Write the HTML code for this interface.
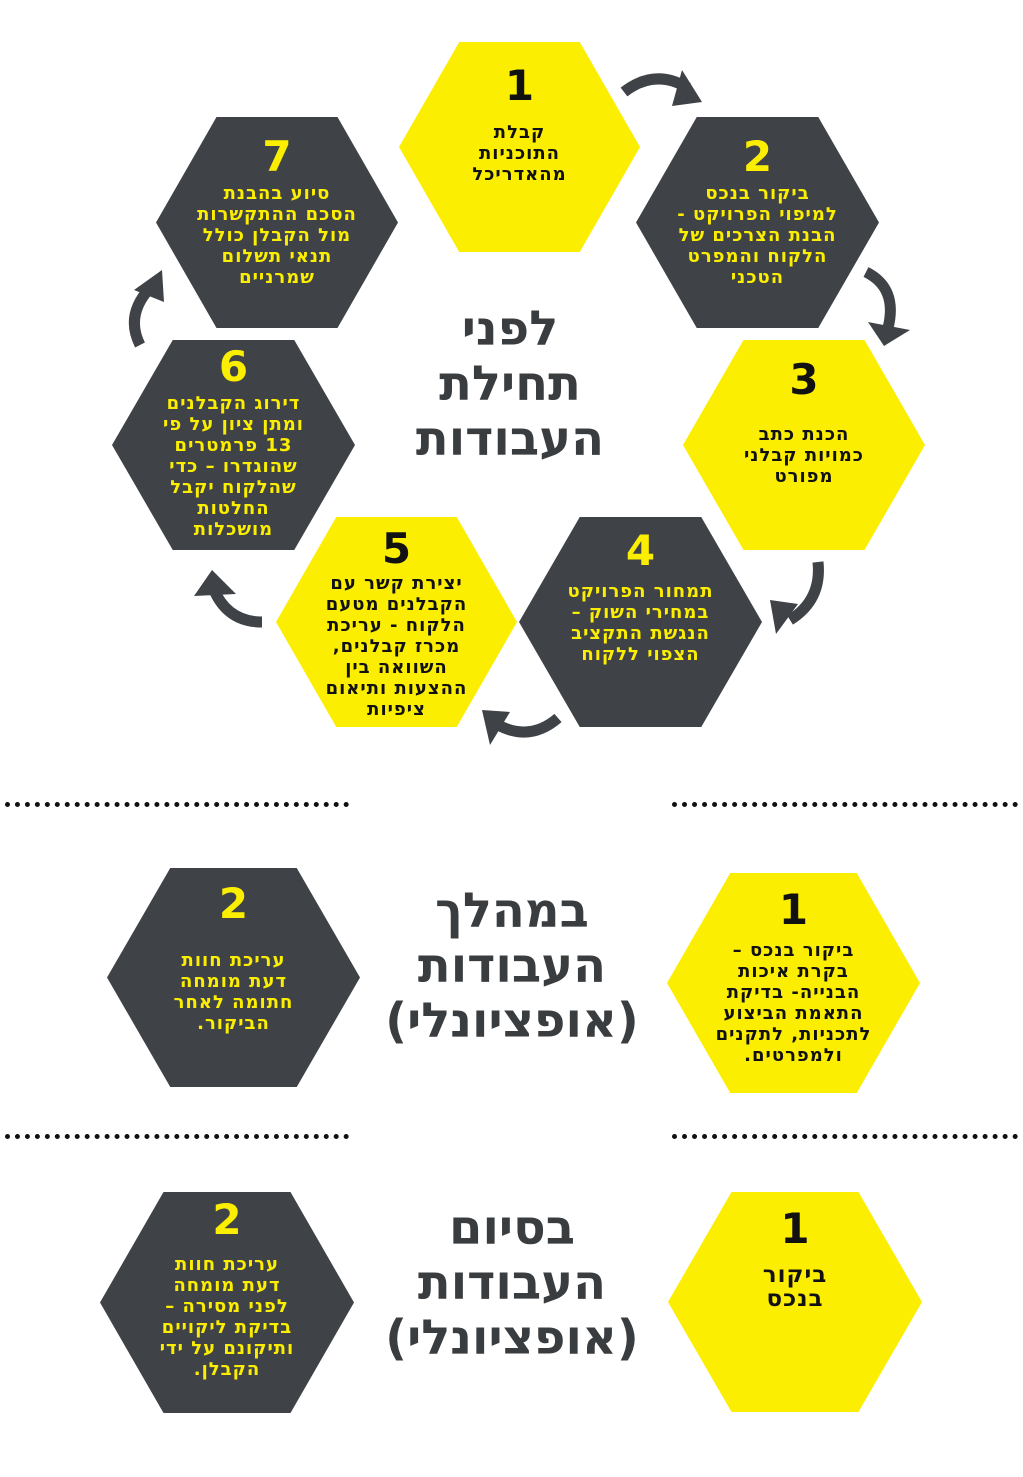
<!DOCTYPE html>
<html><head><meta charset="utf-8"><style>
body{margin:0;width:1023px;height:1477px;background:#fff;position:relative;overflow:hidden;font-family:"Liberation Sans","Noto Sans CJK SC",sans-serif;}
.hex{position:absolute;clip-path:polygon(0 50%,25% 0,75% 0,100% 50%,75% 100%,25% 100%);display:flex;flex-direction:column;align-items:center;justify-content:flex-start;text-align:center;direction:rtl;box-sizing:border-box;}
.y{background:#fcee00;color:#111;}
.d{background:#3f4347;color:#fcee00;}
.n{font-size:42px;font-weight:900;line-height:44px;font-family:"DejaVu Sans","Liberation Sans",sans-serif;}
.t{font-size:18px;font-weight:bold;line-height:21px;letter-spacing:1px;font-family:"DejaVu Sans","Liberation Sans",sans-serif;}
.title{position:absolute;text-align:center;direction:rtl;color:#3a3d40;font-weight:bold;font-size:48px;line-height:55px;font-family:"DejaVu Sans","Liberation Sans",sans-serif;}
.dot{position:absolute;height:0;border-top:5px dotted #111;}
</style></head><body>

<div class="hex y" style="left:399px;top:42px;width:241px;height:210px;padding-top:22px"><div class="n">1</div><div class="t" style="margin-top:14px">קבלת<br>התוכניות<br>מהאדריכל</div></div>
<div class="hex d" style="left:636px;top:117px;width:243px;height:211px;padding-top:18px"><div class="n">2</div><div class="t" style="margin-top:4px">ביקור בנכס<br>למיפוי הפרויקט -<br>הבנת הצרכים של<br>הלקוח והמפרט<br>הטכני</div></div>
<div class="hex y" style="left:683px;top:340px;width:242px;height:210px;padding-top:18px"><div class="n">3</div><div class="t" style="margin-top:22px">הכנת כתב<br>כמויות קבלני<br>מפורט</div></div>
<div class="hex d" style="left:519px;top:517px;width:243px;height:210px;padding-top:12px"><div class="n">4</div><div class="t" style="margin-top:8px">תמחור הפרויקט<br>במחירי השוק –<br>הנגשת התקציב<br>הצפוי ללקוח</div></div>
<div class="hex y" style="left:276px;top:517px;width:241px;height:210px;padding-top:10px"><div class="n">5</div><div class="t" style="margin-top:2px">יצירת קשר עם<br>הקבלנים מטעם<br>הלקוח - עריכת<br>מכרז קבלנים,<br>השוואה בין<br>ההצעות ותיאום<br>ציפיות</div></div>
<div class="hex d" style="left:112px;top:340px;width:243px;height:210px;padding-top:5px"><div class="n">6</div><div class="t" style="margin-top:4px">דירוג הקבלנים<br>ומתן ציון על פי<br>13 פרמטרים<br>שהוגדרו – כדי<br>שהלקוח יקבל<br>החלטות<br>מושכלות</div></div>
<div class="hex d" style="left:156px;top:117px;width:242px;height:211px;padding-top:18px"><div class="n">7</div><div class="t" style="margin-top:4px">סיוע בהבנת<br>הסכם ההתקשרות<br>מול הקבלן כולל<br>תנאי תשלום<br>שמרניים</div></div>

<div class="title" style="left:380px;top:302px;width:260px">לפני<br>תחילת<br>העבודות</div>

<svg style="position:absolute;left:0;top:0" width="1023" height="760">
<g fill="none" stroke="#3f4347" stroke-width="11" stroke-linecap="butt">
<path d="M624,92 Q655,68 688,88"/>
<path d="M866,272 Q898,288 888,328"/>
<path d="M818,562 Q822,600 790,620"/>
<path d="M558,718 Q530,742 498,725"/>
<path d="M262,622 Q228,622 214,590"/>
<path d="M140,345 Q125,315 150,288"/>
</g>
<g fill="#3f4347">
<polygon points="682,70 702,102 672,106"/>
<polygon points="868,322 910,330 884,346"/>
<polygon points="798,604 776,634 770,600"/>
<polygon points="510,712 490,745 482,710"/>
<polygon points="194,596 212,570 236,594"/>
<polygon points="134,290 162,270 164,302"/>
</g>
</svg>

<div class="dot" style="left:5px;top:802px;width:344px"></div>
<div class="dot" style="left:672px;top:802px;width:346px"></div>

<div class="hex y" style="left:667px;top:873px;width:253px;height:220px;padding-top:15px"><div class="n">1</div><div class="t" style="margin-top:8px">ביקור בנכס –<br>בקרת איכות<br>הבנייה- בדיקת<br>התאמת הביצוע<br>לתכניות, לתקנים<br>ולמפרטים.</div></div>
<div class="hex d" style="left:107px;top:868px;width:253px;height:219px;padding-top:14px"><div class="n">2</div><div class="t" style="margin-top:24px">עריכת חוות<br>דעת מומחה<br>חתומה לאחר<br>הביקור.</div></div>
<div class="title" style="left:372px;top:884px;width:280px">במהלך<br>העבודות<br>(אופציונלי)</div>

<div class="dot" style="left:5px;top:1134px;width:344px"></div>
<div class="dot" style="left:672px;top:1134px;width:346px"></div>

<div class="hex y" style="left:668px;top:1192px;width:254px;height:220px;padding-top:15px"><div class="n">1</div><div class="t" style="margin-top:12px;font-size:23px;line-height:24px">ביקור<br>בנכס</div></div>
<div class="hex d" style="left:100px;top:1192px;width:254px;height:221px;padding-top:6px"><div class="n">2</div><div class="t" style="margin-top:12px">עריכת חוות<br>דעת מומחה<br>לפני מסירה –<br>בדיקת ליקויים<br>ותיקונם על ידי<br>הקבלן.</div></div>
<div class="title" style="left:372px;top:1201px;width:280px">בסיום<br>העבודות<br>(אופציונלי)</div>
</body></html>
